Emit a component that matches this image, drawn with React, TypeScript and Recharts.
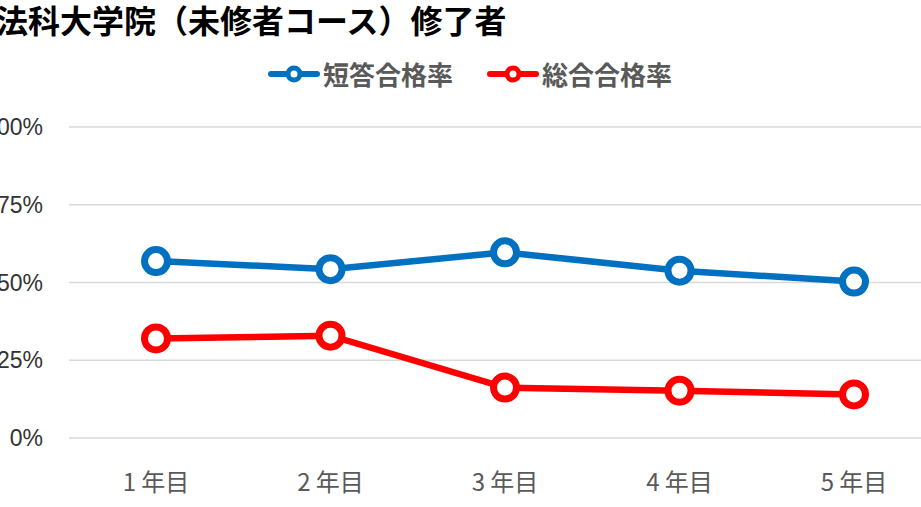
import React from "react";
import { LineChart, Line, XAxis, YAxis, CartesianGrid } from "recharts";

const years = ["1 年目", "2 年目", "3 年目", "4 年目", "5 年目"];
const shortAnswerRate = [0.569, 0.543, 0.597, 0.538, 0.503];
const totalRate = [0.32, 0.329, 0.162, 0.152, 0.14];
const yTicks = [0, 0.25, 0.5, 0.75, 1];

const seriesInfo = [
  { key: "short", name: "短答合格率", color: "#0070C0" },
  { key: "total", name: "総合合格率", color: "#FF0000" },
];

const chartData = years.map((year, i) => ({
  year,
  short: shortAnswerRate[i],
  total: totalRate[i],
}));

const FONT = '"Noto Sans CJK JP", "Noto Sans", sans-serif';

function ChartLegend() {
  return (
    <div
      style={{
        position: "absolute",
        top: 61,
        left: 268,
        display: "flex",
        alignItems: "center",
        fontFamily: FONT,
      }}
    >
      {seriesInfo.map((s, i) => (
        <div
          key={s.key}
          style={{ display: "flex", alignItems: "center", marginLeft: i === 0 ? 0 : 34 }}
        >
          <svg width={52} height={26}>
            <line x1={3} y1={13} x2={49} y2={13} stroke={s.color} strokeWidth={6} strokeLinecap="round" />
            <circle cx={26} cy={13} r={6} fill="#fff" stroke={s.color} strokeWidth={5} />
          </svg>
          <span
            style={{
              marginLeft: 3,
              fontSize: 26,
              lineHeight: "26px",
              fontWeight: 700,
              color: "#595959",
            }}
          >
            {s.name}
          </span>
        </div>
      ))}
    </div>
  );
}

export default function App() {
  return (
    <div
      style={{
        position: "fixed",
        top: 0,
        left: 0,
        width: 921,
        height: 507,
        overflow: "hidden",
        background: "#fff",
      }}
    >
      <div
        style={{
          position: "absolute",
          top: 3,
          left: -4,
          fontFamily: FONT,
          fontSize: 32,
          lineHeight: "32px",
          fontWeight: 700,
          color: "#000",
          whiteSpace: "nowrap",
        }}
      >
        法科大学院（未修者コース）修了者
      </div>
      <ChartLegend />
      <div style={{ position: "absolute", top: 0, left: 0 }}>
        <LineChart
          width={960}
          height={507}
          data={chartData}
          margin={{ top: 127, right: 19, left: 0, bottom: 0 }}
        >
          <CartesianGrid vertical={false} stroke="#d9d9d9" strokeWidth={1.5} />
          <XAxis
            dataKey="year"
            height={69}
            padding={{ left: 87, right: 87 }}
            axisLine={false}
            tickLine={false}
            tickSize={0}
            tickMargin={36}
            tick={{ fontSize: 24, fill: "#595959", fontFamily: FONT }}
          />
          <YAxis
            width={69}
            domain={[0, 1]}
            ticks={yTicks}
            axisLine={false}
            tickLine={false}
            tickSize={0}
            tickMargin={26}
            tickFormatter={(v: number) => `${Math.round(v * 100)}%`}
            tick={{ fontSize: 23, fill: "#333", fontFamily: '"Liberation Sans", Arial, sans-serif' }}
          />
          {seriesInfo.map((s) => (
            <Line
              key={s.key}
              type="linear"
              dataKey={s.key}
              name={s.name}
              stroke={s.color}
              strokeWidth={6.5}
              dot={{ r: 11.5, fill: "#fff", stroke: s.color, strokeWidth: 7 }}
              activeDot={false}
              isAnimationActive={false}
            />
          ))}
        </LineChart>
      </div>
    </div>
  );
}
